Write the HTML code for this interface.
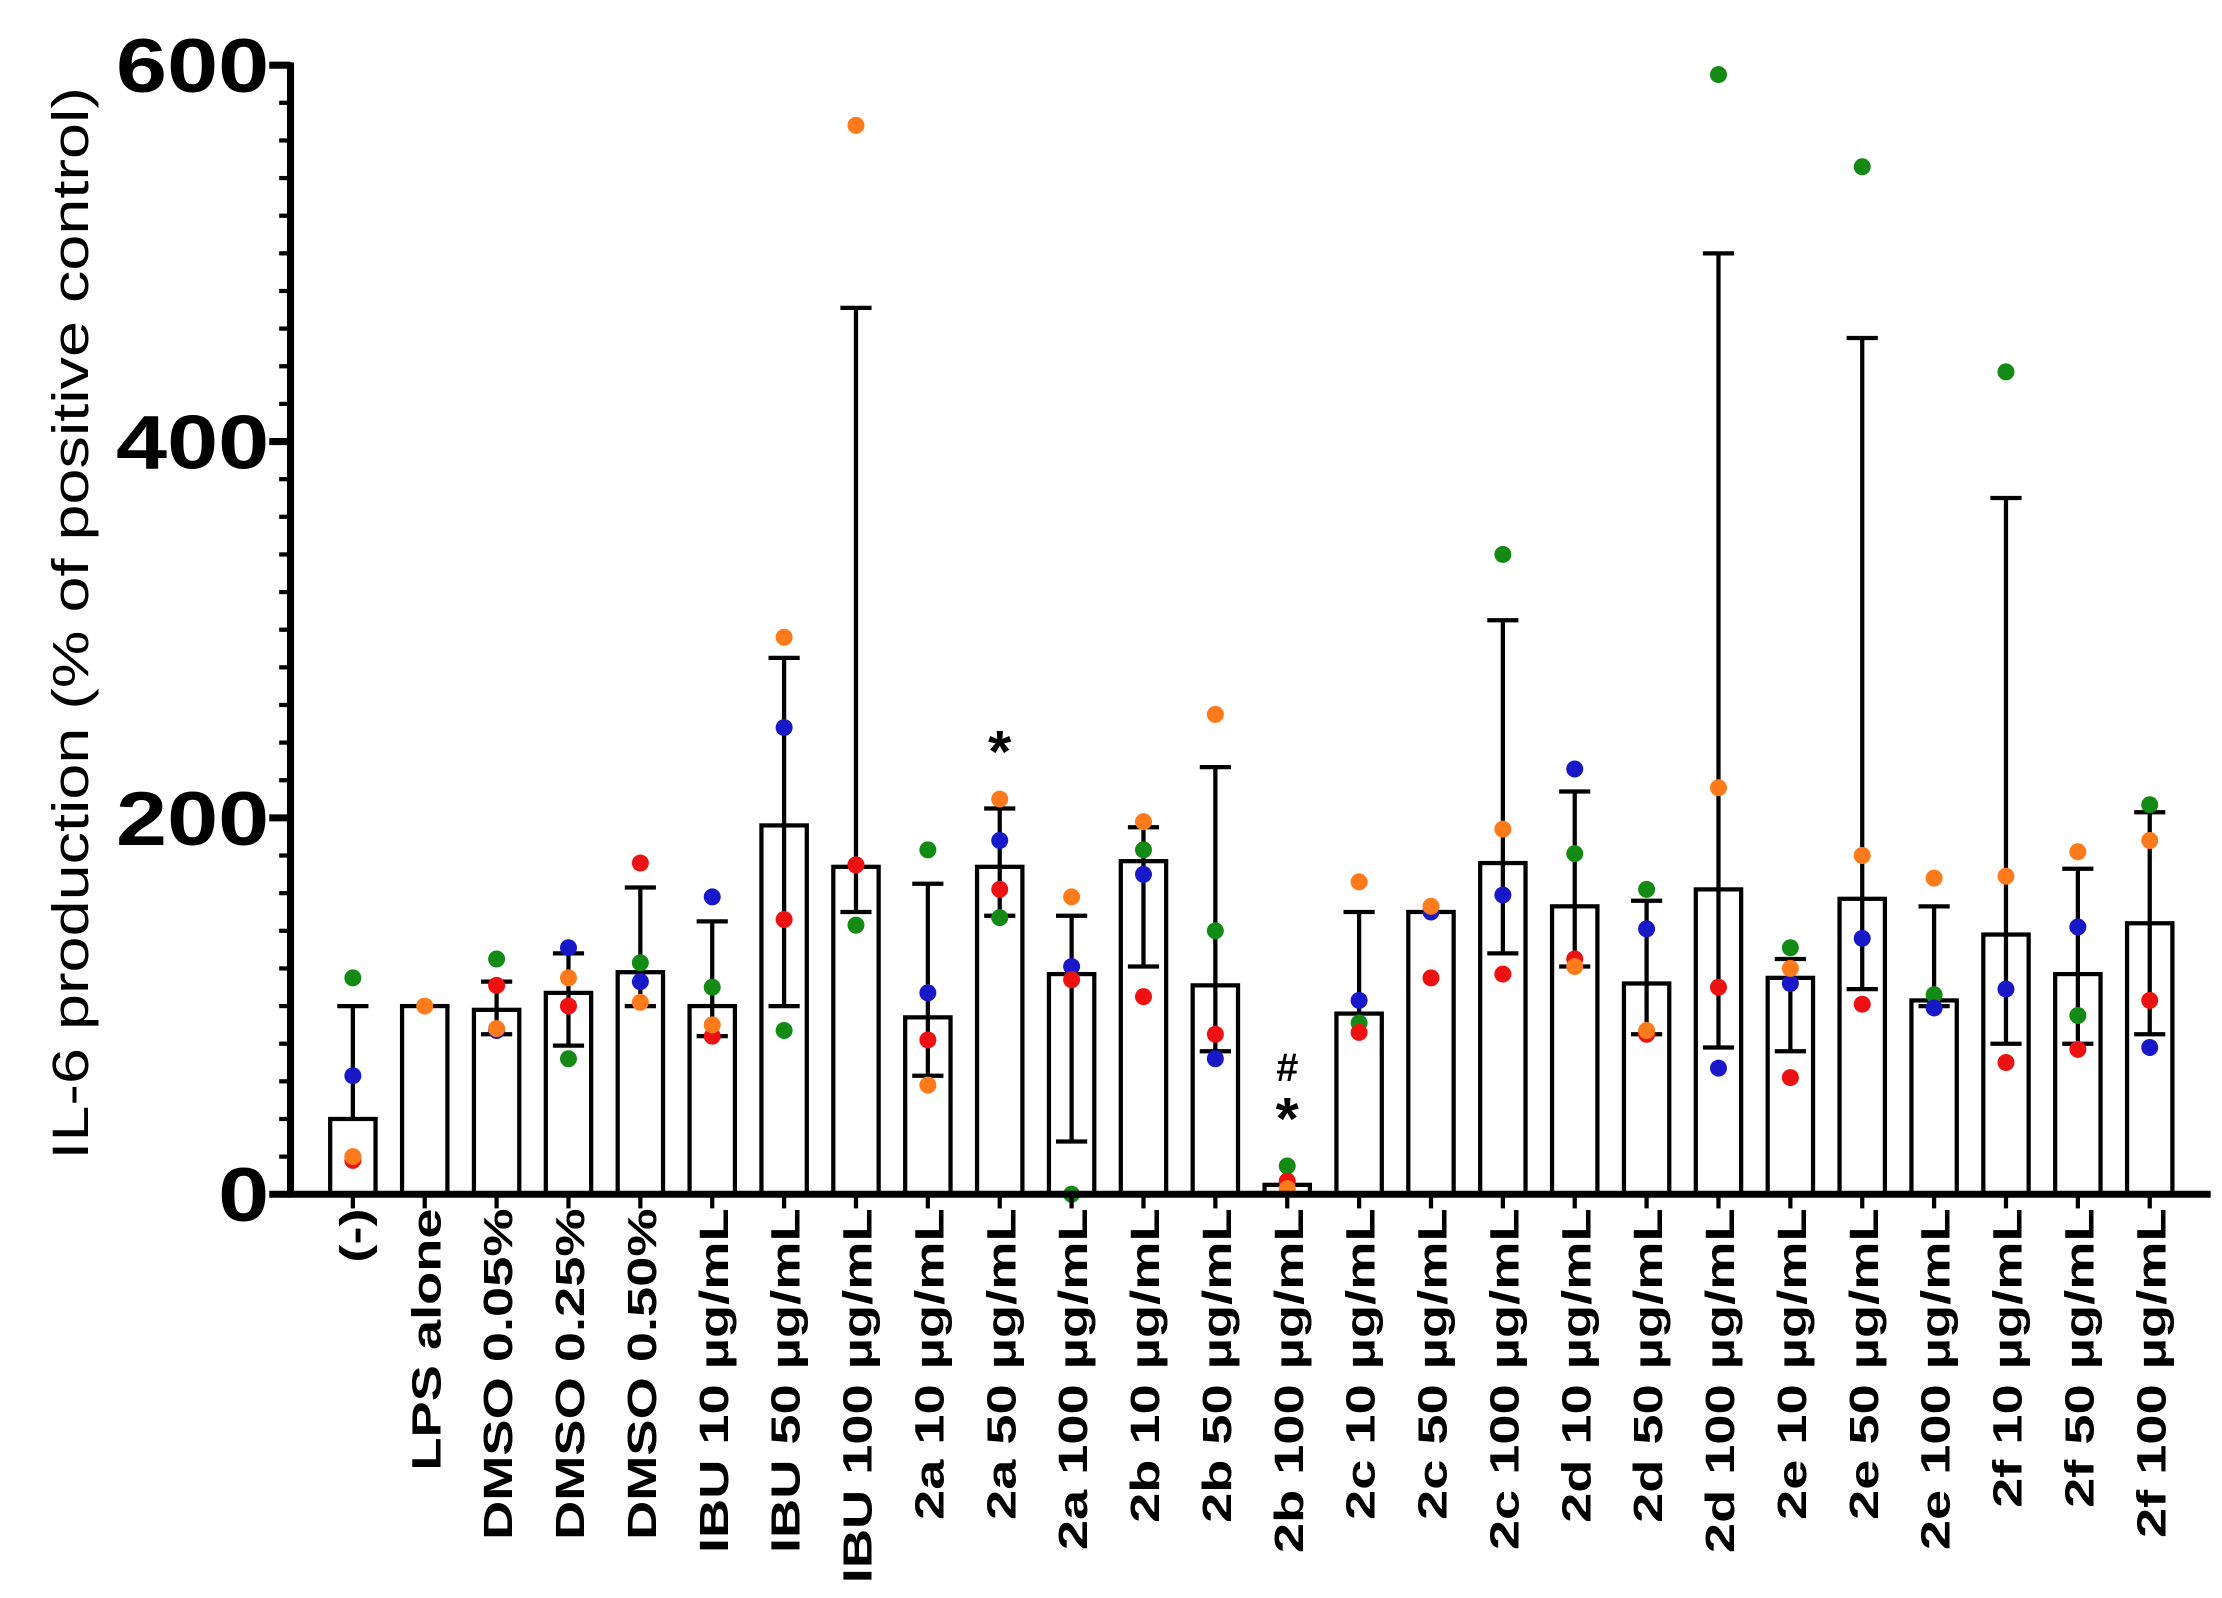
<!DOCTYPE html>
<html><head><meta charset="utf-8"><style>html,body{margin:0;padding:0;background:#fff}svg{display:block}</style></head>
<body>
<svg id="s" width="2222" height="1598" viewBox="0 0 1568 1128" preserveAspectRatio="none" xmlns="http://www.w3.org/2000/svg" font-family="Liberation Sans, Arial, sans-serif">
<text transform="translate(62,440) rotate(-90) scale(1.27,1)" text-anchor="middle" font-size="36" fill="#000">IL-6 production (% of positive control)</text>
</svg>
<script>
var s=document.getElementById('s'),NS='http://www.w3.org/2000/svg';
function el(t,a,txt){var e=document.createElementNS(NS,t);for(var k in a)e.setAttribute(k,a[k]);if(txt!=null)e.textContent=txt;s.appendChild(e);return e;}
var Y0=843,K=(843-46)/600;function Y(v){return Y0-v*K;}
var X0=249,DX=(1517-249)/25;
var C={g:'#138a13',b:'#1818c8',r:'#ee1111',o:'#ff7a1a'};
var D=[
['(-)',40,null,100,{g:115,b:63,r:18,o:20}],
['LPS alone',100,null,null,{o:100}],
['DMSO 0.05%',98,85,113,{g:125,r:111,o:88,b:87}],
['DMSO 0.25%',107,79,128,{b:131,o:115,r:100,g:72}],
['DMSO 0.50%',118,100,163,{r:176,g:123,b:113,o:102}],
['IBU 10 µg/mL',100,84,145,{b:158,g:110,o:90,r:84}],
['IBU 50 µg/mL',196,100,285,{o:296,b:248,r:146,g:87}],
['IBU 100 µg/mL',174,150,471,{o:568,b:175,r:175,g:143}],
['2a 10 µg/mL',94,63,165,{g:183,b:107,r:82,o:58}],
['2a 50 µg/mL',174,148,205,{o:210,b:188,r:162,g:147}],
['2a 100 µg/mL',117,28,148,{o:158,b:121,r:114,g:0}],
['2b 10 µg/mL',177,121,195,{o:198,g:183,b:170,r:105}],
['2b 50 µg/mL',111,76,227,{o:255,g:140,r:85,b:72}],
['2b 100 µg/mL',5,null,null,{g:15,r:7,o:3}],
['2c 10 µg/mL',96,null,150,{o:166,b:103,g:91,r:86}],
['2c 50 µg/mL',150,null,null,{b:150,o:153,r:115}],
['2c 100 µg/mL',176,128,305,{g:340,o:194,b:159,r:117}],
['2d 10 µg/mL',153,121,214,{b:226,g:181,r:125,o:121}],
['2d 50 µg/mL',112,85,156,{g:162,b:141,o:87,r:85}],
['2d 100 µg/mL',162,78,500,{g:595,o:216,r:110,b:67}],
['2e 10 µg/mL',115,76,125,{g:131,o:120,b:112,r:62}],
['2e 50 µg/mL',157,109,455,{g:546,o:180,b:136,r:101}],
['2e 100 µg/mL',103,100,153,{o:168,g:106,b:99}],
['2f 10 µg/mL',138,80,370,{g:437,o:169,b:109,r:70}],
['2f 50 µg/mL',117,80,173,{o:182,b:142,g:95,r:77}],
['2f 100 µg/mL',144,85,203,{g:207,o:188,r:103,b:78}]];
D.forEach(function(d,i){var x=X0+i*DX,w=32;
 el('rect',{x:x-w/2,y:Y(d[1]),width:w,height:Y0-Y(d[1]),fill:'#fff',stroke:'#000','stroke-width':3});
 var lo=d[2]!=null?d[2]:d[1],hi=d[3]!=null?d[3]:d[1];
 if(hi>d[1]||lo<d[1]){el('line',{x1:x,x2:x,y1:Y(hi),y2:Y(lo),stroke:'#000','stroke-width':3});
  if(d[3]!=null)el('line',{x1:x-11,x2:x+11,y1:Y(hi),y2:Y(hi),stroke:'#000','stroke-width':3});
  if(d[2]!=null)el('line',{x1:x-11,x2:x+11,y1:Y(lo),y2:Y(lo),stroke:'#000','stroke-width':3});}
 ['g','b','r','o'].forEach(function(k){if(d[4][k]!=null)el('circle',{cx:x,cy:Y(d[4][k]),r:6,fill:C[k]});});
 el('line',{x1:x,x2:x,y1:Y0,y2:Y0+10,stroke:'#000','stroke-width':3});
 el('text',{transform:'translate('+(x+11)+',853) rotate(-90) scale(1.32,1)','text-anchor':'end','font-size':29,'font-weight':'bold'},d[0]);
});
el('text',{x:X0+9*DX,y:545,'text-anchor':'middle','font-size':42,'font-weight':'bold'},'*');
el('text',{x:X0+13*DX,y:804,'text-anchor':'middle','font-size':42,'font-weight':'bold'},'*');
el('text',{x:X0+13*DX,y:763,'text-anchor':'middle','font-size':28,'font-weight':'bold'},'#');
el('line',{x1:205,x2:205,y1:44,y2:845,stroke:'#000','stroke-width':5});
el('line',{x1:203,x2:1560,y1:Y0,y2:Y0,stroke:'#000','stroke-width':5});
for(var v=0;v<=600;v+=20){var maj=v%200==0;el('line',{x1:maj?190:197,x2:205,y1:Y(v),y2:Y(v),stroke:'#000','stroke-width':maj?5:3});}
[0,200,400,600].forEach(function(v){el('text',{transform:'translate(190,'+(Y(v)+19)+') scale(1.2,1)','text-anchor':'end','font-size':54,'font-weight':'bold'},v);});
</script>
</body></html>
